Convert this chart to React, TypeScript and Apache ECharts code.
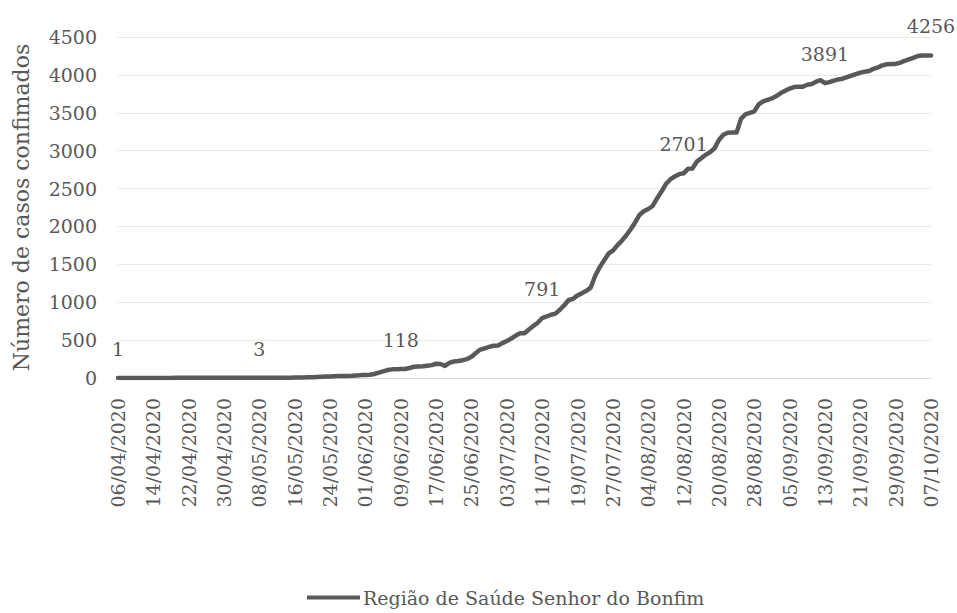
import React, { useEffect, useRef } from "react";
import * as echarts from "echarts";

// Daily dates from 06/04/2020 to 07/10/2020
const startDate = [2020, 3, 6]; // year, monthIndex, day
const dayCount = 185;

const confirmed: number[] = [
  1, 1, 1, 1, 1, 1, 1, 1, 1, 1,
  1, 1, 1, 2, 2, 2, 2, 2, 2, 2,
  2, 2, 2, 2, 2, 2, 2, 2, 2, 2,
  3, 3, 3, 3, 3, 3, 3, 3, 3, 4,
  5, 6, 7, 9, 11, 14, 17, 19, 21, 23,
  25, 27, 28, 30, 34, 38, 40, 42, 53, 70,
  88, 105, 114, 115, 118, 118, 132, 148, 152, 155,
  163, 170, 188, 185, 160, 200, 218, 225, 235, 250,
  280, 330, 375, 392, 410, 425, 428, 460, 488, 520,
  560, 590, 592, 640, 686, 730, 791, 812, 835, 850,
  900, 960, 1029, 1045, 1090, 1120, 1150, 1195, 1350, 1460,
  1550, 1640, 1680, 1750, 1810, 1880, 1960, 2050, 2150, 2200,
  2230, 2270, 2370, 2460, 2560, 2620, 2660, 2690, 2701, 2760,
  2765, 2855, 2900, 2945, 2980, 3030, 3140, 3210, 3237, 3240,
  3240, 3420, 3480, 3500, 3520, 3610, 3650, 3670, 3690, 3720,
  3760, 3790, 3820, 3840, 3844, 3845, 3870, 3880, 3910, 3930,
  3891, 3905, 3925, 3940, 3950, 3970, 3990, 4010, 4030, 4042,
  4050, 4080, 4100, 4125, 4140, 4143, 4145, 4160, 4185, 4205,
  4225, 4250, 4256, 4256, 4256,
];

const labeledIndices: number[] = [0, 32, 64, 96, 128, 160, 184];

const seriesName = "Região de Saúde Senhor do Bonfim";
const yAxisName = "Número de casos confimados";

function pad(n: number) {
  return n < 10 ? "0" + n : "" + n;
}

const categories: string[] = [];
for (let i = 0; i < dayCount; i++) {
  const d = new Date(startDate[0], startDate[1], startDate[2] + i);
  categories.push(`${pad(d.getDate())}/${pad(d.getMonth() + 1)}/${d.getFullYear()}`);
}

const FONT = "DejaVu Serif";
const TEXT = "#595959";

export default function App() {
  const ref = useRef<HTMLDivElement>(null);
  useEffect(() => {
    if (!ref.current) return;
    const chart = echarts.init(ref.current, undefined, { renderer: "svg" });
    const data = confirmed.map((v, i) =>
      labeledIndices.includes(i) ? { value: v, label: { show: true } } : v
    );
    chart.setOption({
      animation: false,
      backgroundColor: "#ffffff",
      textStyle: { fontFamily: FONT, color: TEXT },
      grid: { left: 118, right: 26, top: 37, bottom: 235 },
      legend: {
        show: true,
        left: 302,
        top: 583,
        itemWidth: 53,
        itemHeight: 4,
        itemGap: 10,
        icon: "rect",
        textStyle: { fontFamily: FONT, fontSize: 19, color: TEXT, padding: [0, 0, 0, -2] },
        data: [seriesName],
      },
      xAxis: {
        type: "category",
        data: categories,
        boundaryGap: false,
        axisLine: { show: true, lineStyle: { color: "#d9d9d9", width: 1 } },
        axisTick: { show: false },
        axisLabel: {
          interval: 7,
          rotate: 90,
          margin: 20,
          fontFamily: FONT,
          fontSize: 19,
          color: TEXT,
        },
        splitLine: { show: false },
      },
      yAxis: {
        type: "value",
        min: 0,
        max: 4500,
        interval: 500,
        name: yAxisName,
        nameLocation: "middle",
        nameGap: 86,
        nameTextStyle: { fontFamily: FONT, fontSize: 22, color: TEXT },
        axisLine: { show: false },
        axisTick: { show: false },
        axisLabel: {
          margin: 21,
          fontFamily: FONT,
          fontSize: 19,
          color: TEXT,
          formatter: (v: number) => String(v),
        },
        splitLine: { show: true, lineStyle: { color: "#ece9df", width: 1 } },
      },
      series: [
        {
          name: seriesName,
          type: "line",
          data,
          symbol: "circle",
          symbolSize: 1,
          showSymbol: true,
          showAllSymbol: true,
          itemStyle: { color: "#595959" },
          lineStyle: { color: "#595959", width: 4.5, join: "round", cap: "round" },
          label: {
            show: false,
            position: "top",
            distance: 19,
            fontFamily: FONT,
            fontSize: 19,
            color: TEXT,
          },
        },
      ],
    });
    return () => chart.dispose();
  }, []);
  return (
    <div
      ref={ref}
      style={{ position: "absolute", left: 0, top: 0, width: 957, height: 613 }}
    />
  );
}
